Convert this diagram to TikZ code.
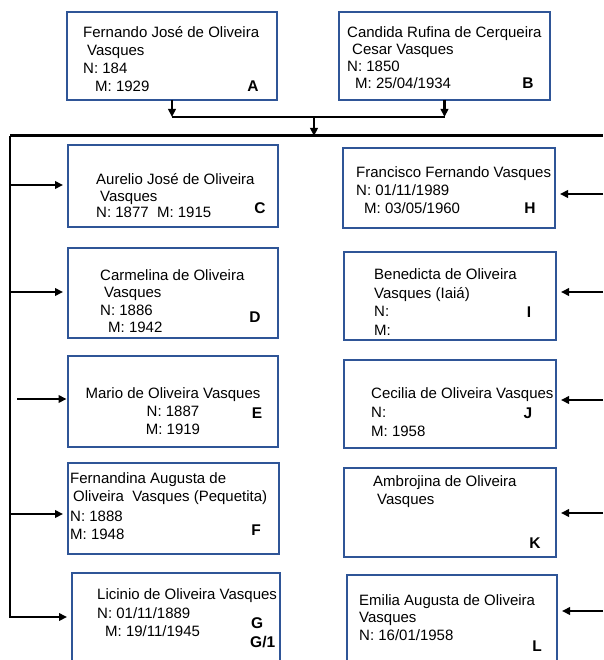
\documentclass[tikz,border=0pt]{standalone}
\usepackage{fontspec}
\setmainfont{Liberation Sans}
\definecolor{boxblue}{RGB}{47, 85, 151}
\usetikzlibrary{arrows.meta, positioning, calc}

\begin{document}
\begin{tikzpicture}[x=1pt, y=1pt,
  person/.style={draw=boxblue, line width=2.8pt, fill=white, inner sep=0pt, outer sep=0pt},
  txt/.style={font=\fontsize{15}{17.5}\selectfont, align=left, inner sep=0pt, anchor=north west},
  tag/.style={font=\fontsize{15.5}{18}\selectfont\bfseries, inner sep=0pt},
  link/.style={line width=2.5pt},
  arr/.style={line width=2.5pt, -{Triangle[length=8pt, width=7.5pt]}}
]
  \useasboundingbox (0,0) rectangle (603,-660);
  \clip (0,0) rectangle (603,-660);

  % Parents
  \node[person, minimum width=210pt, minimum height=88pt] (A) at (172,-56) {};
  \node[txt, font=\fontsize{15}{18}\selectfont] (Atext) at (83,-25) {\strut Fernando José de Oliveira\\
    \hspace*{4pt}Vasques\\
    N: 184\\
    \hspace*{12pt}M: 1929};
  \node[tag] (Atag) at (253,-86) {A};

  \node[person, minimum width=211pt, minimum height=88pt] (B) at (444.5,-56) {};
  \node[txt, font=\fontsize{15}{17}\selectfont] (Btext) at (347,-25.5) {\strut Candida Rufina de Cerqueira\\
    \hspace*{5pt}Cesar Vasques\\
    N: 1850\\
    \hspace*{8pt}M: 25/04/1934};
  \node[tag] (Btag) at (528,-83) {B};

  % Rails
  \coordinate (pairline) at (314,-117);
  \coordinate (lrail) at (10,-136);
  \coordinate (rrail) at (603,-136);
  \coordinate (lbot) at (10,-617);

  \draw[arr] (A.south) -- (A.south |- pairline);
  \draw[arr] (B.south) -- (B.south |- pairline);
  \draw[link] (A.south |- pairline) -- (B.south |- pairline);
  \draw[arr] (pairline) -- (pairline |- lrail);
  \draw[link, line width=3pt] (lrail) -- (rrail);

  % Left column
  \node[person, minimum width=210pt, minimum height=82pt] (C) at (173,-186) {};
  \node[txt, font=\fontsize{15}{16.5}\selectfont] (Ctext) at (96,-173) {\strut Aurelio José de Oliveira\\
    \hspace*{4pt}Vasques\\
    N: 1877\ \ M: 1915};
  \node[tag] (Ctag) at (260,-208) {C};

  \node[person, minimum width=210pt, minimum height=90pt] (D) at (173,-293) {};
  \node[txt] (Dtext) at (100,-268) {\strut Carmelina de Oliveira\\
    \hspace*{4pt}Vasques\\
    N: 1886\\
    \hspace*{8pt}M: 1942};
  \node[tag] (Dtag) at (255,-317) {D};

  \node[person, minimum width=210pt, minimum height=91pt] (E) at (173,-401.5) {};
  \node[txt, align=center, anchor=north, font=\fontsize{15}{18}\selectfont] (Etext) at (173,-386) {\strut Mario de Oliveira Vasques\\
    N: 1887\\
    M: 1919};
  \node[tag] (Etag) at (257,-413) {E};

  \node[person, minimum width=211pt, minimum height=91pt] (F) at (173.5,-508.5) {};
  \node[txt, font=\fontsize{15}{18}\selectfont] (Ftext) at (70,-471) {\strut Fernandina Augusta de\\
    \hspace*{3pt}Oliveira\ \ Vasques (Pequetita)\\[2pt]
    N: 1888\\
    M: 1948};
  \node[tag] (Ftag) at (256,-530) {F};

  \node[person, minimum width=208pt, minimum height=93pt] (G) at (176,-619.5) {};
  \node[txt, font=\fontsize{15}{18.5}\selectfont] (Gtext) at (97,-586.5) {\strut Licinio de Oliveira Vasques\\
    N: 01/11/1889\\
    \hspace*{8pt}M: 19/11/1945};
  \node[tag, anchor=west] (Gtag) at (251,-623) {G};
  \node[tag, anchor=west] (G1tag) at (250,-642) {G/1};

  % Right column
  \node[person, minimum width=212pt, minimum height=80pt] (H) at (449,-188) {};
  \node[txt, font=\fontsize{15}{18}\selectfont] (Htext) at (356,-165) {\strut Francisco Fernando Vasques\\
    N: 01/11/1989\\
    \hspace*{8pt}M: 03/05/1960};
  \node[tag] (Htag) at (530,-208) {H};

  \node[person, minimum width=212pt, minimum height=88pt] (I) at (450,-296) {};
  \node[txt, font=\fontsize{15}{18.5}\selectfont] (Itext) at (374,-266.5) {\strut Benedicta de Oliveira\\
    Vasques (Iaiá)\\
    N:\\
    M:};
  \node[tag] (Itag) at (529,-312) {I};

  \node[person, minimum width=212pt, minimum height=88pt] (J) at (450,-404) {};
  \node[txt, font=\fontsize{15}{19}\selectfont] (Jtext) at (371,-385) {\strut Cecilia de Oliveira Vasques\\
    N:\\
    M: 1958};
  \node[tag] (Jtag) at (528,-413) {J};

  \node[person, minimum width=212pt, minimum height=89pt] (K) at (450,-512.5) {};
  \node[txt, font=\fontsize{15}{18}\selectfont] (Ktext) at (373,-474) {\strut Ambrojina de Oliveira\\
    \hspace*{4pt}Vasques};
  \node[tag] (Ktag) at (535,-543) {K};

  \node[person, minimum width=210pt, minimum height=93pt] (L) at (452,-621.5) {};
  \node[txt] (Ltext) at (359,-593) {\strut Emilia Augusta de Oliveira\\
    Vasques\\
    N: 16/01/1958};
  \node[tag] (Ltag) at (537,-646) {L};

  % Children arrows, left side
  \coordinate (cin) at (10,-185);
  \coordinate (din) at (10,-292);
  \coordinate (ein) at (17,-399);
  \coordinate (fin) at (10,-514);
  \draw[arr, shorten >=5pt] (lrail) -- (lbot) -- (lbot -| G.west);
  \draw[arr, shorten >=5pt] (cin) -- (cin -| C.west);
  \draw[arr, shorten >=5pt] (din) -- (din -| D.west);
  \draw[arr, shorten >=1.5pt] (ein) -- (ein -| E.west);
  \draw[arr, shorten >=5pt] (fin) -- (fin -| F.west);

  % Children arrows, right side
  \coordinate (hin) at (603,-194);
  \coordinate (iin) at (603,-292);
  \coordinate (jin) at (603,-400);
  \coordinate (kin) at (603,-513);
  \coordinate (lin) at (603,-611);
  \draw[arr, shorten >=5pt] (hin) -- (hin -| H.east);
  \draw[arr, shorten >=5pt] (iin) -- (iin -| I.east);
  \draw[arr, shorten >=5pt] (jin) -- (jin -| J.east);
  \draw[arr, shorten >=5pt] (kin) -- (kin -| K.east);
  \draw[arr, shorten >=5pt] (lin) -- (lin -| L.east);
\end{tikzpicture}
\end{document}
